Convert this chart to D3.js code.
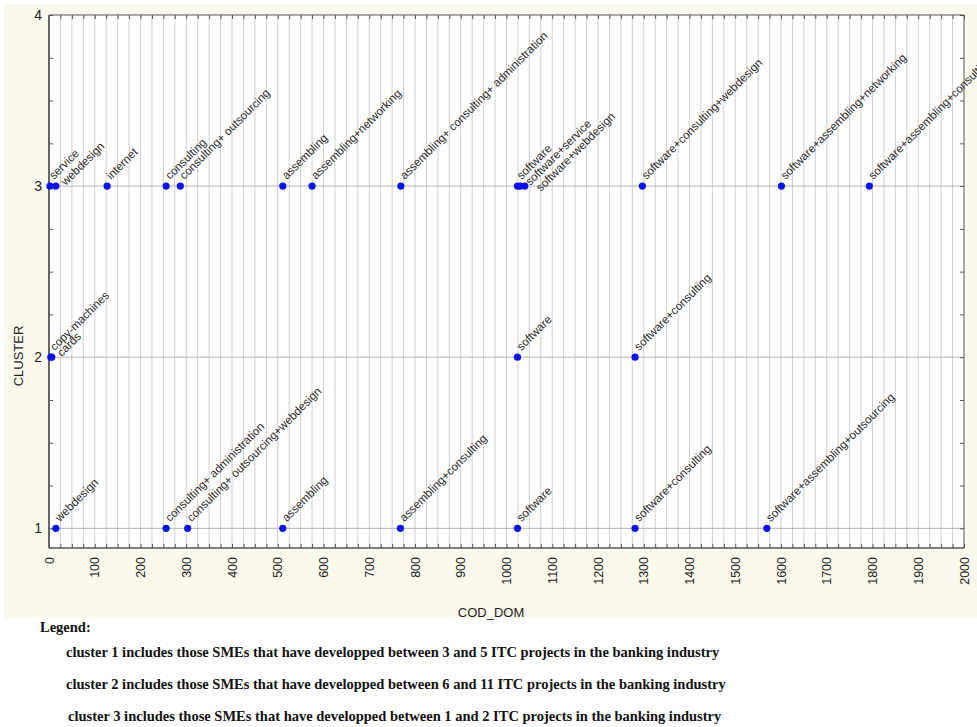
<!DOCTYPE html>
<html><head><meta charset="utf-8">
<script src="https://cdn.jsdelivr.net/npm/d3@7"></script>
<style>
html,body{margin:0;padding:0;background:#ffffff;}
svg{display:block;}
</style></head>
<body>
<svg id="chart" width="977" height="727"></svg>
<script>
// ---- data ----
const labels = [
  "service","webdesign","internet","consulting","consulting+ outsourcing","assembling",
  "assembling+networking","assembling+ consulting+ administration","software","software+service",
  "software+webdesign","software+consulting+webdesign","software+assembling+networking",
  "software+assembling+consulting",
  "copy-machines","cards","software","software+consulting",
  "webdesign","consulting+ administration","consulting+ outsourcing+webdesign","assembling",
  "assembling+consulting","software","software+consulting","software+assembling+outsourcing"
];
const codDom = [
  2,15,127,256,287,511,575,769,1024,1030,1040,1297,1601,1793,
  4,6,1024,1281,
  15,256,303,511,768,1024,1281,1569
];
const cluster = [
  3,3,3,3,3,3,3,3,3,3,3,3,3,3,
  2,2,2,2,
  1,1,1,1,1,1,1,1
];
const xTicks = d3.range(0, 2001, 100);
const yTicks = [1, 2, 3, 4];
const legendTitle = "Legend:";
const legendLines = [
  "cluster 1 includes those SMEs that have developped between 3 and 5 ITC projects in the banking industry",
  "cluster 2 includes those SMEs that have developped between 6 and 11 ITC projects in the banking industry",
  "cluster 3 includes those SMEs that have developped between 1 and 2 ITC projects in the banking industry"
];

// ---- layout ----
const svg = d3.select("#chart");
const L = 49, R = 964, T = 15, B = 548;
const x = d3.scaleLinear().domain([0, 2000]).range([L, R]);
const y = d3.scaleLinear().domain([0.885, 4]).range([B, T]);

svg.append("rect").attr("x", 4).attr("y", 4).attr("width", 973).attr("height", 614).attr("fill", "#fbf8ec");
svg.append("rect").attr("x", L).attr("y", T).attr("width", R - L).attr("height", B - T).attr("fill", "#ffffff");

// vertical grid every 25
const minorX = d3.range(25, 2000, 25);
svg.append("g").selectAll("line").data(minorX).join("line")
  .attr("x1", d => x(d)).attr("x2", d => x(d)).attr("y1", T).attr("y2", B)
  .attr("stroke", "#cfcfcf").attr("stroke-width", 1);
// horizontal grid at majors
svg.append("g").selectAll("line").data([1, 2, 3]).join("line")
  .attr("x1", L).attr("x2", R).attr("y1", d => y(d)).attr("y2", d => y(d))
  .attr("stroke", "#b4b4b4").attr("stroke-width", 1);

// axes
const bottomAxis = d3.axisBottom(x).tickValues(d3.range(0, 2001, 25)).tickSize(-4).tickFormat("");
const gb = svg.append("g").attr("transform", `translate(0,${B})`).call(bottomAxis);
const topAxis = d3.axisTop(x).tickValues(d3.range(0, 2001, 25)).tickSize(-4).tickFormat("");
const gt = svg.append("g").attr("transform", `translate(0,${T})`).call(topAxis);
const yMinor = d3.range(1, 4.001, 0.25);
const leftAxis = d3.axisLeft(y).tickValues(yMinor).tickSize(-4).tickFormat("");
const gl = svg.append("g").attr("transform", `translate(${L},0)`).call(leftAxis);
const rightAxis = d3.axisRight(y).tickValues(yMinor).tickSize(-4).tickFormat("");
const gr = svg.append("g").attr("transform", `translate(${R},0)`).call(rightAxis);
[gb, gt, gl, gr].forEach(g => { g.select(".domain").remove(); g.selectAll("line").attr("stroke", "#555"); });

// frame
svg.append("line").attr("x1", L).attr("x2", R).attr("y1", T).attr("y2", T).attr("stroke", "#555").attr("stroke-width", 1);
svg.append("line").attr("x1", R).attr("x2", R).attr("y1", T).attr("y2", B).attr("stroke", "#555").attr("stroke-width", 1);
svg.append("line").attr("x1", L).attr("x2", R).attr("y1", B).attr("y2", B).attr("stroke", "#555").attr("stroke-width", 1.5);
svg.append("line").attr("x1", L).attr("x2", L).attr("y1", T).attr("y2", B).attr("stroke", "#666").attr("stroke-width", 2);

// tick labels
svg.append("g").selectAll("text").data(xTicks).join("text")
  .attr("transform", d => `translate(${x(d) + 4.5},557) rotate(-90)`)
  .attr("text-anchor", "end")
  .attr("font-family", "Liberation Sans, Arial, sans-serif").attr("font-size", 12.5).attr("fill", "#222")
  .text(d => d);
svg.append("g").selectAll("text").data(yTicks).join("text")
  .attr("x", 42).attr("y", d => y(d) + 5).attr("text-anchor", "end")
  .attr("font-family", "Liberation Sans, Arial, sans-serif").attr("font-size", 14).attr("fill", "#222")
  .text(d => d);

// axis titles
svg.append("text").attr("x", 491).attr("y", 617).attr("text-anchor", "middle")
  .attr("font-family", "Liberation Sans, Arial, sans-serif").attr("font-size", 13).attr("fill", "#222").text("COD_DOM");
svg.append("text").attr("transform", "translate(23,356) rotate(-90)").attr("text-anchor", "middle")
  .attr("font-family", "Liberation Sans, Arial, sans-serif").attr("font-size", 13).attr("fill", "#222").text("CLUSTER");

// points
const pts = labels.map((l, i) => ({ label: l, cod: codDom[i], cl: cluster[i] }));
// label stacking for overlapping points within a cluster
let prev = null, level = 0;
pts.forEach(p => {
  if (prev && prev.cl === p.cl && Math.abs(x(p.cod) - x(prev.cod)) < 12) level += 1; else level = 0;
  p.level = level; prev = p;
});

svg.append("g").selectAll("circle").data(pts).join("circle")
  .attr("cx", d => x(d.cod)).attr("cy", d => y(d.cl)).attr("r", 3.6).attr("fill", "#0a14e6");

svg.append("g").selectAll("text").data(pts).join("text")
  .attr("transform", d => `translate(${x(d.cod) + 4 + d.level * 6},${y(d.cl) - 6 + d.level * 6}) rotate(-45)`)
  .attr("font-family", "Liberation Sans, Arial, sans-serif").attr("font-size", 11.6).attr("fill", "#2a2a2a")
  .text(d => d.label);

// legend
svg.append("text").attr("x", 40).attr("y", 632)
  .attr("font-family", "Liberation Serif, Times New Roman, serif").attr("font-weight", "bold").attr("font-size", 14.5).attr("fill", "#111")
  .text(legendTitle);
svg.append("g").selectAll("text").data(legendLines).join("text")
  .attr("x", (d, i) => i === 2 ? 68 : 66).attr("y", (d, i) => 657 + i * 32)
  .attr("font-family", "Liberation Serif, Times New Roman, serif").attr("font-weight", "bold").attr("font-size", 14.5).attr("fill", "#111")
  .text(d => d);
</script>
</body></html>
